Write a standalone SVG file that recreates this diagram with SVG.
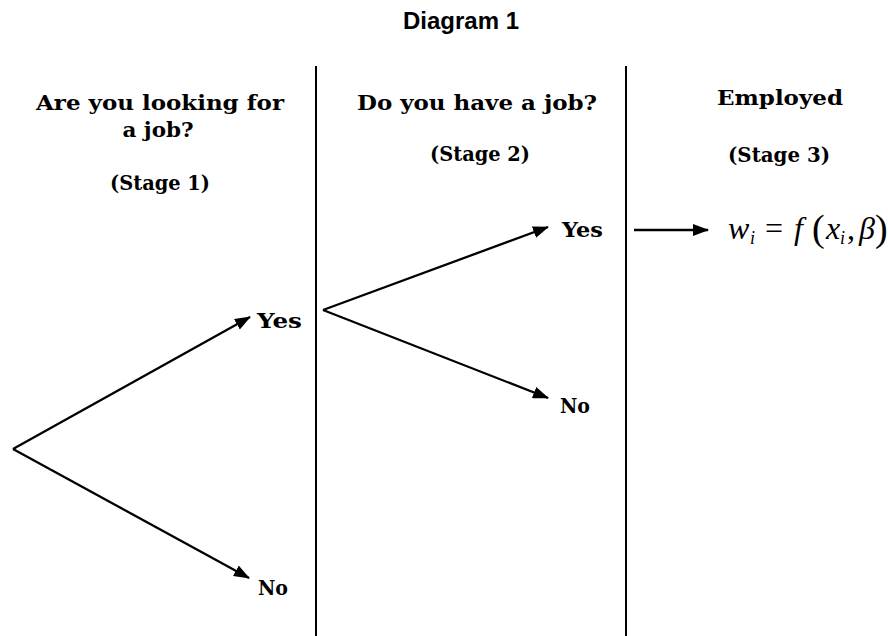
<svg xmlns="http://www.w3.org/2000/svg" width="888" height="636" viewBox="0 0 888 636">
  <defs>
    <marker id="arrow" viewBox="0 0 16 12" refX="15" refY="6" markerWidth="16" markerHeight="12" markerUnits="userSpaceOnUse" orient="auto">
      <path d="M0,0 L16,6 L0,12 z" fill="#000"/>
    </marker>
    <style>
      .hd { font-family: "DejaVu Serif", "Liberation Serif", serif; font-weight: bold; font-size: 21px; fill: #000; }
      .lbl { font-family: "DejaVu Serif", "Liberation Serif", serif; font-weight: bold; font-size: 21px; fill: #000; }
      .title { font-family: "Liberation Sans", Arial, sans-serif; font-weight: bold; font-size: 24px; fill: #000; }
      .math { font-family: "Liberation Serif", "DejaVu Serif", serif; font-size: 32px; fill: #000; }
      .it { font-style: italic; }
      .sub { font-size: 18px; }
      .conn { stroke: #000; stroke-width: 2.3; fill: none; }
      .div { stroke: #000; stroke-width: 2; }
    </style>
  </defs>
  <rect width="888" height="636" fill="#fff"/>

  <text class="title" x="461" y="29" text-anchor="middle">Diagram 1</text>

  <g id="dividers">
    <line class="div" x1="316" y1="66" x2="316" y2="636"/>
    <line class="div" x1="626" y1="66" x2="626" y2="636"/>
  </g>

  <g id="stage1">
    <text class="hd" x="160" y="110" text-anchor="middle" textLength="248" lengthAdjust="spacingAndGlyphs">Are you looking for</text>
    <text class="hd" x="158" y="137" text-anchor="middle" textLength="71" lengthAdjust="spacingAndGlyphs">a job?</text>
    <text class="hd" x="160" y="190" text-anchor="middle" textLength="100" lengthAdjust="spacingAndGlyphs">(Stage 1)</text>
  </g>
  <g id="stage2">
    <text class="hd" x="477" y="110" text-anchor="middle" textLength="240" lengthAdjust="spacingAndGlyphs">Do you have a job?</text>
    <text class="hd" x="480" y="161" text-anchor="middle" textLength="100" lengthAdjust="spacingAndGlyphs">(Stage 2)</text>
  </g>
  <g id="stage3">
    <text class="hd" x="780" y="105" text-anchor="middle" textLength="126" lengthAdjust="spacingAndGlyphs">Employed</text>
    <text class="hd" x="779" y="162" text-anchor="middle" textLength="102" lengthAdjust="spacingAndGlyphs">(Stage 3)</text>
  </g>

  <g id="yes1"><text class="lbl" x="257" y="328" textLength="45" lengthAdjust="spacingAndGlyphs">Yes</text></g>
  <g id="no1"><text class="lbl" x="258" y="595" textLength="30" lengthAdjust="spacingAndGlyphs">No</text></g>
  <g id="yes2"><text class="lbl" x="562" y="237" textLength="41" lengthAdjust="spacingAndGlyphs">Yes</text></g>
  <g id="no2"><text class="lbl" x="560" y="413" textLength="30" lengthAdjust="spacingAndGlyphs">No</text></g>

  <g id="formula">
    <text class="math" y="239">
      <tspan class="it" x="728">w</tspan><tspan class="it sub" x="750" y="244">i</tspan><tspan x="765" y="239">=</tspan><tspan class="it" x="794">f</tspan><tspan x="812" y="241" style="font-size:38px">(</tspan><tspan class="it" x="826" y="239">x</tspan><tspan class="it sub" x="840" y="244">i</tspan><tspan x="847" y="239">,</tspan><tspan class="it" x="859">β</tspan><tspan x="875" y="241" style="font-size:38px">)</tspan>
    </text>
  </g>

  <g id="connectors">
    <line class="conn" x1="13" y1="449" x2="250" y2="317" marker-end="url(#arrow)"/>
    <line class="conn" x1="13" y1="449" x2="249" y2="578" marker-end="url(#arrow)"/>
    <line class="conn" x1="323" y1="310" x2="548" y2="227" marker-end="url(#arrow)"/>
    <line class="conn" x1="323" y1="310" x2="548" y2="398" marker-end="url(#arrow)"/>
    <line class="conn" x1="634" y1="230" x2="708" y2="230" marker-end="url(#arrow)"/>
  </g>
</svg>
